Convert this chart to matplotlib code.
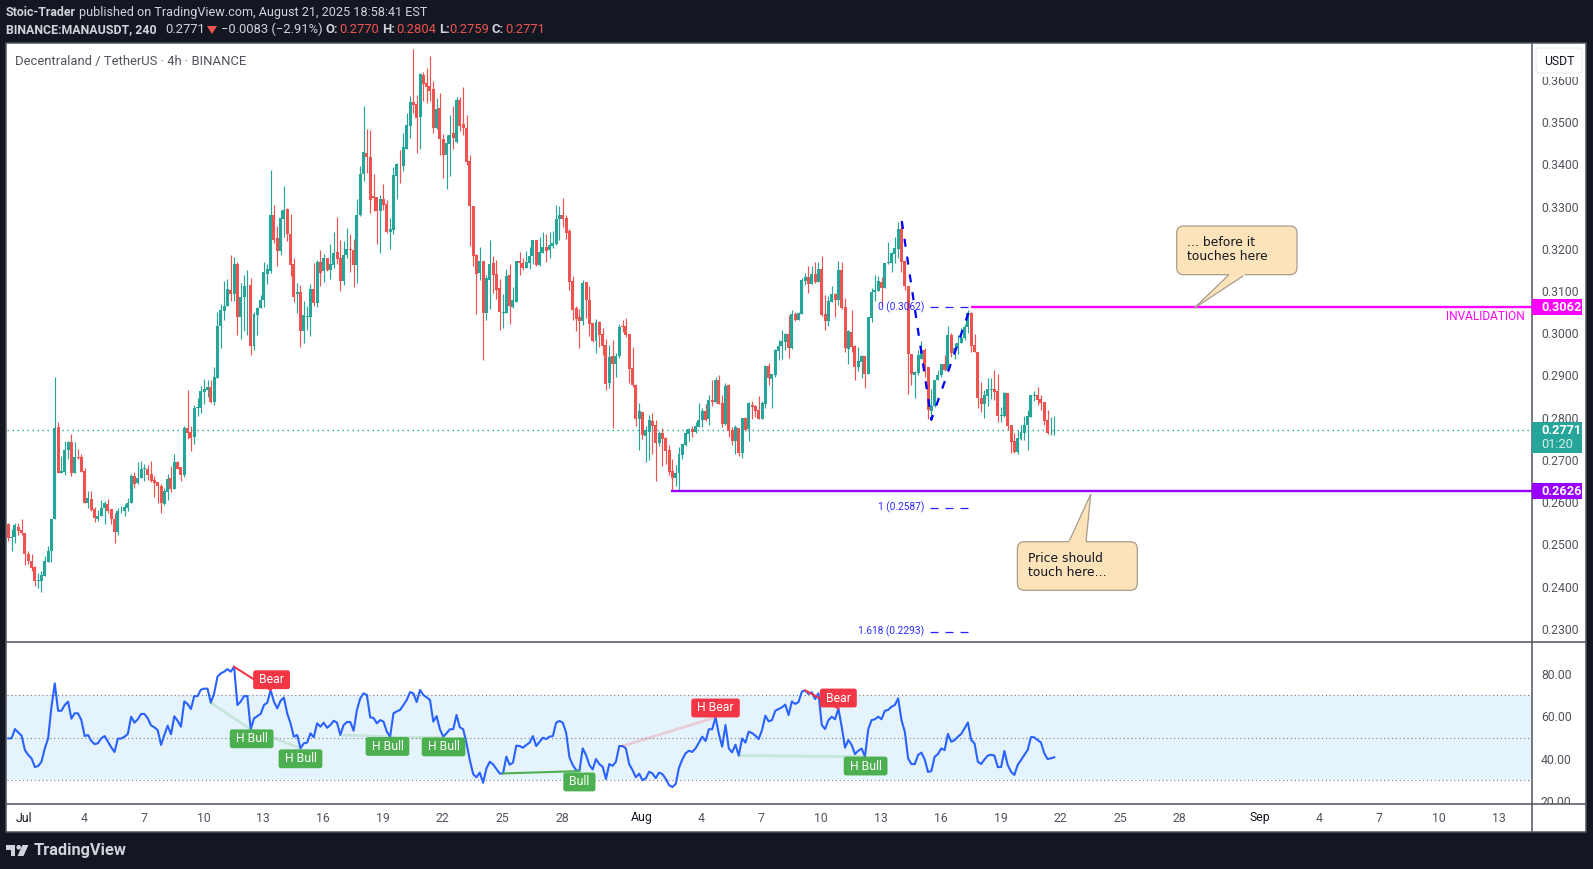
import numpy as np
import matplotlib
matplotlib.use('Agg')
import matplotlib.pyplot as plt
from matplotlib.lines import Line2D
from matplotlib.patches import Rectangle, FancyBboxPatch, Polygon, Circle

plt.rcParams['font.family'] = ['Roboto', 'DejaVu Sans']

# precios en diezmilesimas, una vela cada 4h
opens = [
    2548,2516,2517,2541,2534,2527,2477,2461,2446,2414,2414,2426,2459,2483,2561,2778,2668,2672,2724,2743,
    2670,2707,2707,2674,2597,2608,2584,2561,2566,2585,2596,2584,2560,2530,2578,2578,2587,2597,2661,2645,
    2658,2679,2679,2667,2653,2648,2638,2596,2625,2657,2631,2695,2683,2664,2776,2766,2755,2823,2823,2861,
    2866,2873,2838,2894,3018,3054,3065,3103,3093,3165,3039,3086,3111,3115,2971,3044,3060,3078,
    3140,3148,3280,3226,3195,3271,3294,3235,3164,3093,3098,3005,3038,3038,3105,3072,3169,3148,3178,3150,
    3162,3192,3178,3124,3185,3200,3197,3162,3280,3377,3427,3418,3325,3323,3290,3318,3306,3240,3245,3373,
    3401,3396,3437,3491,3548,3543,3513,3612,3593,3586,3579,3486,3534,3460,3422,3448,3475,3453,3553,3496,
    3486,3408,3302,3185,3143,3171,3048,3126,3166,3140,3107,3048,3048,3138,3062,3074,3171,
    3167,3155,3167,3183,3221,3162,3190,3205,3197,3207,3212,3271,3280,3273,3242,3124,3060,3039,3029,3122,
    3079,3024,2982,3027,2998,2972,2882,2947,2927,2947,3017,3017,2998,2918,2877,2797,2813,2757,2766,2792,
    2783,2740,2764,2752,2723,2674,2657,2669,2712,2735,2761,2773,2766,2778,2795,2816,2797,2842,2837,2890,
    2835,2785,2877,2771,2745,2776,2716,2799,2773,2830,2828,2818,2797,2833,2922,2892,2901,
    2959,2970,2980,2998,
    2965,3046,3031,3046,3124,3133,3117,3140,3121,3152,3046,3029,3074,3093,3079,3150,3062,2963,3003,2970,
    2920,2932,2946,2903,3036,3098,3100,3121,3107,3166,3167,3188,3200,3247,3171,3112,2951,2901,2906,2939,
    2960,2920,2816,2827,2889,2901,2927,2913,2996,2953,2965,2977,2989,3015,3048,2972,2955,2846,2832,2851,
    2865,2868,2863,2804,2804,2858,2782,2745,2718,2749,2763,2782,2801,2851,2854,2844,2837,2794,2765,2770,
]
closes = [
    2514,2517,2546,2532,2527,2478,2461,2444,2412,2416,2427,2461,2484,2560,2775,2670,2674,2724,2743,2670,
    2707,2704,2672,2599,2610,2582,2563,2567,2586,2597,2580,2559,2530,2579,2579,2589,2598,2662,2643,2657,
    2679,2681,2664,2650,2646,2638,2597,2627,2655,2631,2695,2679,2664,2776,2764,2752,2823,2826,2863,2868,
    2873,2838,2896,3018,3055,3065,3105,3093,3165,3039,3086,3112,3112,2971,3046,3060,3079,3146,
    3152,3280,3221,3195,3273,3292,3235,3162,3086,3098,3005,3043,3041,3105,3072,3169,3143,3178,3150,3164,
    3190,3176,3124,3185,3200,3197,3162,3280,3377,3430,3418,3316,3321,3290,3318,3304,3240,3247,3375,3401,
    3400,3441,3494,3548,3541,3510,3614,3591,3584,3574,3486,3532,3460,3422,3451,3470,3463,3553,3491,3486,
    3406,3302,3183,3140,3171,3048,3131,3164,3138,3103,3050,3050,3136,3064,3079,3171,3166,
    3155,3169,3183,3221,3162,3193,3205,3195,3209,3214,3271,3280,3271,3238,3122,3055,3034,3029,3119,3079,
    3022,2982,3027,2996,2970,2880,2944,2927,2947,3015,3015,2996,2915,2877,2797,2816,2759,2771,2795,2780,
    2740,2764,2749,2721,2671,2657,2669,2714,2738,2764,2773,2766,2780,2795,2816,2795,2842,2837,2890,2833,
    2785,2875,2769,2745,2778,2716,2799,2771,2835,2825,2816,2797,2835,2922,2894,2904,2960,
    2970,2981,2998,2964,
    3046,3031,3048,3126,3133,3117,3140,3121,3152,3043,3029,3076,3093,3079,3150,3060,2965,3005,2967,2920,
    2934,2946,2903,3038,3098,3102,3124,3107,3166,3169,3190,3202,3247,3169,3112,2951,2903,2908,2948,2960,
    2918,2818,2827,2889,2901,2927,2913,2996,2953,2965,2977,2989,3015,3048,2970,2955,2846,2832,2854,2868,
    2868,2861,2804,2806,2858,2780,2742,2718,2752,2766,2782,2804,2854,2854,2842,2835,2792,2763,2767,2771,
]
highs = [
    2551,2537,2551,2551,2559,2527,2484,2477,2449,2431,2437,2472,2496,2560,2897,2790,2709,2745,2745,2762,
    2743,2726,2714,2681,2627,2627,2589,2581,2605,2603,2608,2584,2574,2586,2591,2596,2610,2667,2672,2695,
    2698,2691,2688,2698,2662,2648,2643,2634,2667,2686,2714,2698,2683,2781,2866,2781,2830,2847,2875,2892,
    2890,2890,2920,3051,3070,3124,3129,3186,3181,3169,3119,3138,3150,3131,3051,3063,3091,3169,
    3164,3387,3304,3254,3292,3349,3297,3283,3178,3119,3114,3076,3064,3117,3166,3174,3197,3188,3178,3211,
    3240,3275,3221,3218,3249,3235,3223,3318,3396,3539,3484,3482,3377,3323,3328,3354,3316,3273,3394,3403,
    3434,3475,3522,3562,3674,3565,3617,3619,3629,3657,3598,3558,3569,3472,3470,3517,3539,3560,3560,3584,
    3517,3422,3302,3188,3204,3171,3138,3221,3183,3174,3128,3093,3152,3164,3110,3171,3192,
    3179,3195,3205,3221,3221,3228,3240,3235,3240,3242,3304,3302,3321,3280,3247,3136,3065,3058,3127,3122,
    3112,3024,3034,3029,3012,2986,2972,2984,2953,3022,3032,3036,2998,2968,2880,2835,2813,2780,2806,2811,
    2795,2769,2776,2754,2735,2702,2688,2731,2738,2773,2776,2780,2790,2835,2823,2833,2854,2890,2897,2901,
    2854,2882,2880,2778,2783,2776,2799,2802,2837,2840,2830,2851,2840,2925,2930,2904,2963,
    2985,3007,3000,3043,
    3055,3050,3051,3131,3143,3159,3159,3169,3169,3183,3091,3088,3112,3095,3171,3169,3083,3008,3055,2972,
    2967,2948,2946,3038,3107,3138,3136,3133,3166,3216,3193,3228,3264,3266,3173,3112,2951,2910,2960,2982,
    2965,2920,2868,2889,2913,2927,2948,3017,3000,2976,2996,3012,3023,3055,3051,2998,2955,2884,2865,2894,
    2894,2913,2903,2826,2860,2858,2782,2764,2771,2782,2804,2818,2854,2863,2873,2854,2837,2818,2802,2804,
]
lows = [
    2509,2485,2504,2523,2523,2450,2454,2437,2402,2397,2388,2426,2457,2459,2561,2670,2668,2665,2701,2663,
    2670,2701,2672,2599,2585,2578,2554,2556,2566,2549,2575,2549,2504,2523,2573,2566,2580,2597,2634,2643,
    2658,2651,2653,2648,2613,2599,2575,2592,2604,2623,2631,2679,2649,2660,2750,2721,2738,2804,2812,2833,
    2849,2836,2830,2894,2964,3032,3065,3077,3077,2996,2987,3006,2996,2949,2961,2996,3060,3063,
    3117,3143,3214,3159,3185,3228,3219,3136,3074,3048,2967,2977,3008,2993,3064,3062,3112,3121,3148,3128,
    3155,3164,3100,3114,3178,3145,3110,3119,3278,3361,3380,3285,3290,3211,3190,3292,3237,3200,3235,3318,
    3356,3385,3437,3463,3522,3427,3437,3551,3546,3551,3475,3484,3422,3368,3342,3373,3437,3451,3479,3470,
    3399,3207,3159,3046,3126,2937,3031,3057,3095,3081,3008,3012,3048,3022,3060,3074,3138,
    3150,3155,3152,3164,3160,3160,3190,3169,3179,3202,3209,3221,3252,3223,3103,3032,3005,2965,3020,3036,
    2994,2980,2953,2968,2949,2866,2870,2776,2896,2942,3003,2991,2882,2873,2780,2723,2749,2695,2700,2714,
    2650,2733,2685,2690,2664,2626,2638,2626,2702,2733,2745,2754,2764,2778,2778,2792,2783,2828,2835,2833,
    2778,2783,2754,2735,2714,2709,2704,2769,2745,2797,2802,2797,2797,2823,2877,2823,2896,
    2936,2940,2960,2942,
    2963,3029,3031,3046,3114,3095,3117,3119,3121,3041,3008,3017,3074,3038,3067,3057,2955,2927,2955,2889,
    2910,2894,2870,2903,3027,3076,3100,3064,3107,3165,3145,3166,3178,3145,3102,2856,2877,2846,2901,2939,
    2897,2797,2794,2826,2889,2897,2910,2913,2944,2940,2952,2976,2984,3000,2956,2955,2823,2813,2799,2827,
    2844,2842,2790,2790,2801,2771,2717,2717,2714,2747,2747,2723,2801,2839,2830,2818,2782,2761,2758,2759,
]
rsi = [
    49.7,49.7,54.1,52.5,51,44.2,41.9,40.3,36.2,36.7,38.7,45,49.7,64.6,75.6,62.7,62.7,65.4,67,59,
    61.5,61.5,58.3,50.8,51.3,48.5,47,47.4,49.7,50.8,48.1,45.5,43.3,49.6,49.6,50.5,51.8,59.9,57.1,58.7,
    61.2,61.2,59.1,55.8,54.9,53.6,46.6,51.3,55.7,51.6,60.1,58,55.2,67.1,65.9,63.5,69.6,69.6,72.6,73.1,
    73.1,66.5,70.9,78.7,80.3,81.1,82.3,81.1,83.4,65.4,67,69.6,69.6,54,59.1,60.2,61.2,65.4,66.5,72.5,
    67,63.8,67.4,68.9,61.5,56.8,50.5,51.3,45,47.4,47.7,52.1,50.2,56.8,55.2,57.1,54.7,56,58,57.1,
    51.3,56,57.4,57.4,53.3,63.1,68.5,70.9,70.1,59.6,59.3,56.8,58.3,57.6,52.9,50.5,61.5,62.4,63.1,65.4,
    67.8,71.5,70.9,66.8,72.5,70.1,69,67.8,57.6,60.2,54,50.5,52.1,54,54,60.7,54.9,54,47.4,39.5,
    32.9,31.4,33.6,28.8,35.6,38.7,37.5,35.3,33.2,33.2,41.1,37.3,38.3,46.3,46.1,45.3,46.6,47.7,50.8,46.1,
    48.1,50,49.4,50.5,50.8,57.1,57.9,57.1,52.4,40.8,37.2,34.8,34.3,45,41.9,37.2,35.1,40,37.6,36.4,
    30.6,37.6,36.8,38.7,46.1,46.1,45,37.6,34.8,31.4,33.1,30,30.9,34,33.2,31,33.6,32.9,30.7,27.7,
    26.8,28.2,35.9,39.8,42.7,43.9,43.3,45,47.7,50.5,48.5,54,54,59.6,51.8,45.8,56,45,43.1,46.7,
    41.6,49.7,47.7,52.9,52.2,51,49.4,53.6,60.4,57.7,58.3,62.7,63.5,64.3,65.6,60.7,67.1,65.9,66.8,71.7,
    72.3,70.6,71.4,68.2,70.9,56,54.1,58.3,59.9,58.7,63.8,55.2,45.3,48.9,46.6,42.3,43.9,44.9,41.1,54,
    58.3,58.7,59.9,58.7,62.7,63.1,64.6,65.4,68.5,58.3,52.9,40.3,37.6,37.6,41.9,43,39.8,33.9,34.3,41.1,
    42.3,45,44.2,51.8,48.1,48.9,50.5,51.8,54.4,57.2,48.9,47.4,38.7,37.6,39.8,41.6,42,41.6,36.2,36.2,
    43.8,37.2,34,32.5,37.2,39.5,41.9,44.2,50.3,50.2,48.9,47.8,42.7,40,40.3,40.8,
]

price_ticks = [0.23, 0.24, 0.25, 0.26, 0.27, 0.28, 0.29, 0.30, 0.31, 0.32, 0.33, 0.34, 0.35, 0.36]
rsi_ticks = [20, 40, 60, 80]
day_offsets = [0, 3, 6, 9, 12, 15, 18, 21, 24, 27, 31, 34, 37, 40, 43, 46, 49, 52, 55, 58, 62, 65, 68, 71, 74]
day_labels = ['Jul', '4', '7', '10', '13', '16', '19', '22', '25', '28', 'Aug', '4', '7', '10', '13',
              '16', '19', '22', '25', '28', 'Sep', '4', '7', '10', '13']

# (desde, hasta, color, grosor, alfa)
divergences = [
    (68, 79, '#f23645', 1.5, 1), (61, 73, '#4caf50', 2, 0.2), (73, 88, '#4caf50', 2, 0.2),
    (100, 115, '#4caf50', 2, 0.2), (115, 131, '#4caf50', 2, 0.2), (149, 172, '#4caf50', 1.5, 1),
    (185, 213, '#f23645', 2, 0.2), (240, 250, '#f23645', 1.5, 1), (220, 258, '#4caf50', 2, 0.2),
]
# (barra, rsi, texto, color)
div_labels = [
    (79.3, 77.3, 'Bear', '#f23645'), (73.3, 49.5, 'H Bull', '#4caf50'), (88, 40.1, 'H Bull', '#4caf50'),
    (114.2, 45.9, 'H Bull', '#4caf50'), (131.1, 45.7, 'H Bull', '#4caf50'), (172, 29.2, 'Bull', '#4caf50'),
    (213, 64, 'H Bear', '#f23645'), (250, 68.7, 'Bear', '#f23645'), (258.2, 36.7, 'H Bull', '#4caf50'),
]
# zigzag del fib
fib_x = [269.1, 278, 289.8]
fib_y = [0.3266, 0.2795, 0.3062]
fib_levels = [('0 (0.3062)', 0.3062), ('1 (0.2587)', 0.2587), ('1.618 (0.2293)', 0.2293)]

W, H = 1593, 869
UP, DOWN = '#26a69a', '#ef5350'
FRAME = '#50535e'
DARK = '#131722'
MAGENTA = '#ff00ff'
PURPLE = '#9900ff'


def px_axes(fig, left, top, right, bottom):
    return fig.add_axes([left / W, 1 - bottom / H, (right - left) / W, (bottom - top) / H])


def fig_line(fig, x0, y0, x1, y1):
    fig.add_artist(Line2D([x0 / W, x1 / W], [1 - y0 / H, 1 - y1 / H], color=FRAME, lw=1.1, zorder=8))


def price_tag(ax, price, text, color):
    tr = ax.get_yaxis_transform()
    ax.add_patch(Rectangle((1.0, price - 0.00195), 0.0328, 0.0039, transform=tr, fc=color, ec='none',
                           clip_on=False, zorder=5))
    ax.text(1.0059, price, text, transform=tr, color='white', fontsize=9.2, fontweight='bold',
            va='center', ha='left', zorder=6, clip_on=False)


def callout(ax, box, tail, lines, text_x, text_ys):
    l, t, r, b = box
    ax.add_patch(FancyBboxPatch((l + 6, t + 6), r - l - 12, b - t - 12, boxstyle='round,pad=6,rounding_size=7',
                                fc='#fde3ba', ec='#a89c8c', lw=0.9, zorder=2))
    ax.add_patch(Polygon(tail, closed=True, fc='#fde3ba', ec='#a89c8c', lw=0.9, zorder=3))
    # tapar la linea del borde donde sale la cola
    ax.plot([tail[0][0] + 0.6, tail[1][0] - 0.6], [tail[0][1], tail[1][1]], color='#fde3ba', lw=1.4, zorder=4)
    for line, y in zip(lines, text_ys):
        ax.text(text_x, y, line, fontsize=8.9, color='#131722', family='DejaVu Sans', va='center', ha='left', zorder=5)


fig = plt.figure(figsize=(W / 100, H / 100), dpi=100, facecolor=DARK)
fig.add_artist(Rectangle((6 / W, 1 - 832 / H), 1580 / W, 789 / H, transform=fig.transFigure,
                         fc='white', ec=FRAME, lw=1.1, zorder=-1))

ax = px_axes(fig, 7, 44, 1532, 642)
ax_rsi = px_axes(fig, 7, 642, 1532, 804)
x = np.arange(len(closes))
o, c, h, l = [np.array(v) / 10000 for v in (opens, closes, highs, lows)]
colors = [UP if cl >= op else DOWN for op, cl in zip(o, c)]

# velas
ax.vlines(x, l, h, colors=colors, lw=0.85, zorder=3)
ax.bar(x, np.maximum(np.abs(c - o), 0.00012), bottom=np.minimum(o, c), width=0.9, color=colors, zorder=3.1)
ax.axhline(c[-1], color=UP, lw=1, ls=(0, (1, 2.6)), zorder=2)

ax.plot([199.6, 470], [0.2626, 0.2626], color=PURPLE, lw=1.7, solid_capstyle='butt', zorder=3.5)
ax.plot([289.8, 470], [0.3062, 0.3062], color=MAGENTA, lw=1.7, solid_capstyle='butt', zorder=3.5)
ax.plot(fib_x, fib_y, color='#0000ff', lw=1.6, ls=(0, (3.6, 4.5)), zorder=3.4)
for label, level in fib_levels:
    ax.plot([277.5, 289.8], [level, level], color='#2222ff', lw=0.9, ls=(0, (6.4, 5.6)), zorder=3.3)
    ax.text(275.8, level, label, color='#2a2aff', fontsize=7.3, ha='right', va='center', zorder=3.3)

ax.set_xlim(-0.39, 458.9)
ax.set_ylim(0.22685, 0.36855)
ax.set_xticks([])
ax.yaxis.tick_right()
ax.set_yticks(price_ticks)
ax.set_yticklabels(['%.4f' % t for t in price_ticks])
ax.tick_params(axis='y', length=0, pad=6.4, labelsize=8.8, labelcolor=FRAME)

price_tag(ax, 0.3062, '0.3062', MAGENTA)
price_tag(ax, 0.2626, '0.2626', PURPLE)
tr = ax.get_yaxis_transform()
ax.add_patch(Rectangle((1.0, 0.2717), 0.0328, 0.0073, transform=tr, fc=UP, ec='none', clip_on=False, zorder=5))
ax.text(1.0059, 0.2769, '0.2771', transform=tr, color='white', fontsize=9.2, fontweight='bold', va='center',
        clip_on=False, zorder=6)
ax.text(1.0059, 0.2737, '01:20', transform=tr, color='#d4edea', fontsize=9.2, va='center', clip_on=False, zorder=6)

# panel RSI
ax_rsi.axhspan(30, 70, color='#e5f3fd', lw=0, zorder=1)
for level in (30, 50, 70):
    ax_rsi.axhline(level, color='#787b86', lw=0.8, ls=(0, (1, 2.5)), zorder=1.5)
ax_rsi.plot(x, rsi, color='#2962ff', lw=1.5, zorder=3, solid_joinstyle='round')
for start, end, color, width, alpha in divergences:
    ax_rsi.plot([start, end], [rsi[start], rsi[end]], color=color, lw=width, alpha=alpha, zorder=3.2)
for bar, value, text, color in div_labels:
    ax_rsi.text(bar, value, ' ' + text + ' ', color='white', fontsize=8.8, ha='center', va='center', zorder=4,
                bbox=dict(boxstyle='round,pad=0.24,rounding_size=0.2', fc=color, ec='none'))
ax_rsi.set_xlim(-0.39, 458.9)
ax_rsi.set_ylim(18.82, 95.06)
ax_rsi.yaxis.tick_right()
ax_rsi.set_yticks(rsi_ticks)
ax_rsi.set_yticklabels(['%.2f' % t for t in rsi_ticks])
ax_rsi.set_xticks([4.8 + 6 * d for d in day_offsets])
ax_rsi.set_xticklabels(day_labels)
ax_rsi.tick_params(axis='y', length=0, pad=6.4, labelsize=8.8, labelcolor=FRAME)
ax_rsi.tick_params(axis='x', length=0, pad=5.4, labelsize=8.8, labelcolor=FRAME)
for tick_label in ax_rsi.get_xticklabels():
    if tick_label.get_text() in ('Jul', 'Aug', 'Sep'):
        tick_label.set_color(DARK)
# el 20.00 queda cortado por el borde
ax_rsi.add_patch(Rectangle((1.0005, 0), 0.034, -0.16, transform=ax_rsi.transAxes, fc='white', ec='none',
                           clip_on=False, zorder=5))

for a in (ax, ax_rsi):
    for spine in ('left', 'top', 'bottom'):
        a.spines[spine].set_visible(False)
    a.spines['right'].set_color(FRAME)
    a.spines['right'].set_linewidth(1.1)
    a.patch.set_alpha(0)

fig_line(fig, 6, 642, 1586, 642)
fig_line(fig, 6, 804, 1586, 804)
fig_line(fig, 1532, 804, 1532, 832)

# capa en pixeles para textos y globos
over = fig.add_axes([0, 0, 1, 1], zorder=10)
over.set_xlim(0, W)
over.set_ylim(H, 0)
over.axis('off')

HEAD = '#d1d4dc'
RED = '#ef5350'
over.text(6, 12.5, 'Stoic-Trader', color=HEAD, fontsize=8.9, fontweight='bold', va='center')
over.text(79, 12.5, 'published on TradingView.com, August 21, 2025 18:58:41 EST', color=HEAD, fontsize=9.1, va='center')
over.text(6, 29.5, 'BINANCE:MANAUSDT, 240', color=HEAD, fontsize=8.9, fontweight='bold', va='center')
over.text(165.4, 29.5, '0.2771', color=HEAD, fontsize=9.4, va='center')
over.add_patch(Polygon([(207, 26), (217, 26), (212, 34)], closed=True, fc=RED, ec='none'))
over.text(221.4, 29.5, '\u22120.0083 (\u22122.91%)', color=HEAD, fontsize=9.4, va='center')
for text, tx, value, vx in [('O:', 325, '0.2770', 339), ('H:', 382, '0.2804', 396),
                            ('L:', 439, '0.2759', 449), ('C:', 492, '0.2771', 505)]:
    over.text(tx, 29.5, text, color=HEAD, fontsize=9.4, fontweight='bold', va='center')
    over.text(vx, 29.5, value, color=RED, fontsize=9.4, va='center')

over.text(15, 61, 'Decentraland / TetherUS \u00b7 4h \u00b7 BINANCE', color=FRAME, fontsize=9.4, va='center')
over.text(1525, 316.7, 'INVALIDATION', color=MAGENTA, fontsize=8.6, va='center', ha='right')

# boton USDT, tapa la parte de arriba del 0.3600
over.add_patch(Rectangle((1533, 45), 52, 31.5, fc='white', ec='none'))
over.add_patch(FancyBboxPatch((1538, 50), 42, 21, boxstyle='round,pad=2,rounding_size=3', fc='white',
                              ec='#eceef2', lw=1))
over.text(1559, 61.5, 'USDT', color=DARK, fontsize=8.8, ha='center', va='center')

callout(over, (1176.7, 226, 1297, 274.7), [(1229, 274.7), (1245, 274.7), (1194, 308.3)],
        ['... before it', 'touches here'], 1187, [242, 256])
callout(over, (1017.4, 541.7, 1137.3, 590.3), [(1069, 541.7), (1086, 541.7), (1090.8, 494)],
        ['Price should', 'touch here...'], 1028, [558.3, 572.3])

# logo
over.add_patch(Polygon([(6, 845), (15, 845), (15, 856), (10.5, 856), (10.5, 849.5), (6, 849.5)],
                       closed=True, fc=HEAD, ec='none'))
over.add_patch(Circle((18.7, 847.3), 2.3, fc=HEAD, ec='none'))
over.add_patch(Polygon([(22.5, 845), (28.5, 845), (23.5, 856), (17.5, 856)], closed=True, fc=HEAD, ec='none'))
over.text(33.5, 850.5, 'TradingView', color=HEAD, fontsize=11.8, fontweight='bold', va='center')

fig.savefig('out.png', dpi=100, facecolor=DARK)
